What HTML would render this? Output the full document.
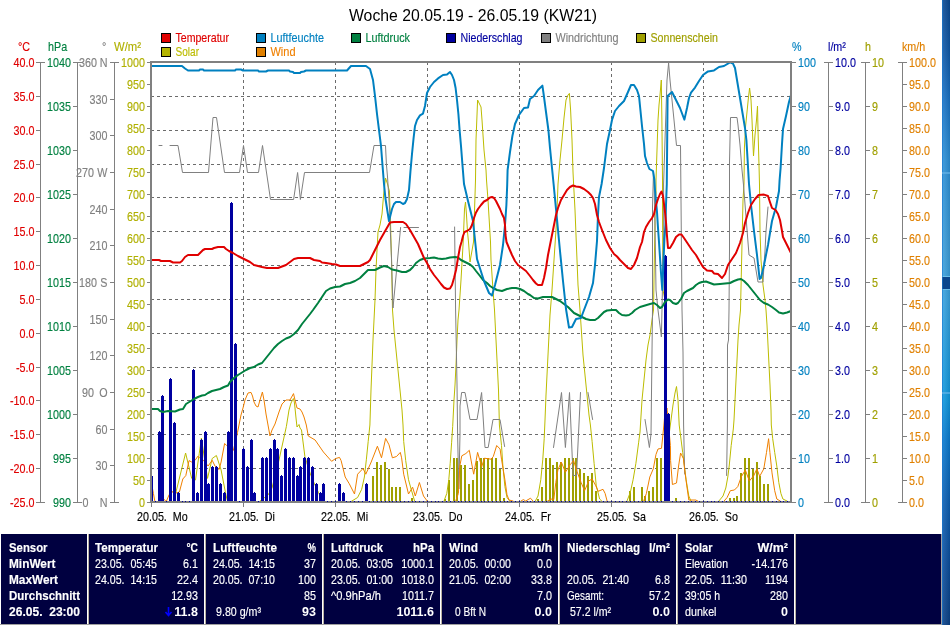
<!DOCTYPE html>
<html lang="de"><head><meta charset="utf-8"><title>Woche 20.05.19 - 26.05.19 (KW21)</title>
<style>html,body{margin:0;padding:0;background:#fff;overflow:hidden}svg{display:block}text{white-space:pre;font-family:"Liberation Sans",sans-serif}</style></head>
<body>
<svg width="950" height="625" viewBox="0 0 950 625"  xml:space="preserve">
<rect x="0" y="0" width="950" height="625" fill="#fff"/>
<text x="473" y="21" font-size="16" fill="#000" text-anchor="middle" textLength="248.00" lengthAdjust="spacingAndGlyphs">Woche 20.05.19 - 26.05.19 (KW21)</text>
<rect x="161.5" y="33.5" width="9" height="9" fill="#e00000" stroke="#000" stroke-width="1" shape-rendering="crispEdges"/>
<text transform="translate(175.5 42) scale(0.86 1)" font-size="12.5" fill="#e00000" stroke="#e00000" stroke-width="0.15" textLength="62.21" lengthAdjust="spacingAndGlyphs">Temperatur</text>
<rect x="256.5" y="33.5" width="9" height="9" fill="#0080c0" stroke="#000" stroke-width="1" shape-rendering="crispEdges"/>
<text transform="translate(270.5 42) scale(0.86 1)" font-size="12.5" fill="#0080c0" stroke="#0080c0" stroke-width="0.15" textLength="62.21" lengthAdjust="spacingAndGlyphs">Luftfeuchte</text>
<rect x="351.5" y="33.5" width="9" height="9" fill="#008040" stroke="#000" stroke-width="1" shape-rendering="crispEdges"/>
<text transform="translate(365.5 42) scale(0.86 1)" font-size="12.5" fill="#008040" stroke="#008040" stroke-width="0.15" textLength="51.74" lengthAdjust="spacingAndGlyphs">Luftdruck</text>
<rect x="446.5" y="33.5" width="9" height="9" fill="#0000a0" stroke="#000" stroke-width="1" shape-rendering="crispEdges"/>
<text transform="translate(460.5 42) scale(0.86 1)" font-size="12.5" fill="#0000a0" stroke="#0000a0" stroke-width="0.15" textLength="72.09" lengthAdjust="spacingAndGlyphs">Niederschlag</text>
<rect x="541.5" y="33.5" width="9" height="9" fill="#808080" stroke="#000" stroke-width="1" shape-rendering="crispEdges"/>
<text transform="translate(555.5 42) scale(0.86 1)" font-size="12.5" fill="#808080" stroke="#808080" stroke-width="0.15" textLength="73.26" lengthAdjust="spacingAndGlyphs">Windrichtung</text>
<rect x="636.5" y="33.5" width="9" height="9" fill="#a0a000" stroke="#000" stroke-width="1" shape-rendering="crispEdges"/>
<text transform="translate(650.5 42) scale(0.86 1)" font-size="12.5" fill="#a0a000" stroke="#a0a000" stroke-width="0.15" textLength="78.49" lengthAdjust="spacingAndGlyphs">Sonnenschein</text>
<rect x="161.5" y="47.5" width="9" height="9" fill="#b4b400" stroke="#000" stroke-width="1" shape-rendering="crispEdges"/>
<text transform="translate(175.5 56) scale(0.86 1)" font-size="12.5" fill="#bcbc00" stroke="#bcbc00" stroke-width="0.15" textLength="27.33" lengthAdjust="spacingAndGlyphs">Solar</text>
<rect x="256.5" y="47.5" width="9" height="9" fill="#e08000" stroke="#000" stroke-width="1" shape-rendering="crispEdges"/>
<text transform="translate(270.5 56) scale(0.86 1)" font-size="12.5" fill="#f08000" stroke="#f08000" stroke-width="0.15" textLength="29.07" lengthAdjust="spacingAndGlyphs">Wind</text>
<g shape-rendering="crispEdges">
<line x1="151" x2="790" y1="96.5" y2="96.5" stroke="#6c6c6c" stroke-width="1" stroke-dasharray="3,3"/>
<line x1="151" x2="790" y1="130.5" y2="130.5" stroke="#6c6c6c" stroke-width="1" stroke-dasharray="3,3"/>
<line x1="151" x2="790" y1="164.5" y2="164.5" stroke="#6c6c6c" stroke-width="1" stroke-dasharray="3,3"/>
<line x1="151" x2="790" y1="197.5" y2="197.5" stroke="#6c6c6c" stroke-width="1" stroke-dasharray="3,3"/>
<line x1="151" x2="790" y1="231.5" y2="231.5" stroke="#6c6c6c" stroke-width="1" stroke-dasharray="3,3"/>
<line x1="151" x2="790" y1="265.5" y2="265.5" stroke="#6c6c6c" stroke-width="1" stroke-dasharray="3,3"/>
<line x1="151" x2="790" y1="299.5" y2="299.5" stroke="#6c6c6c" stroke-width="1" stroke-dasharray="3,3"/>
<line x1="151" x2="790" y1="333.5" y2="333.5" stroke="#6c6c6c" stroke-width="1" stroke-dasharray="3,3"/>
<line x1="151" x2="790" y1="367.5" y2="367.5" stroke="#6c6c6c" stroke-width="1" stroke-dasharray="3,3"/>
<line x1="151" x2="790" y1="400.5" y2="400.5" stroke="#6c6c6c" stroke-width="1" stroke-dasharray="3,3"/>
<line x1="151" x2="790" y1="434.5" y2="434.5" stroke="#6c6c6c" stroke-width="1" stroke-dasharray="3,3"/>
<line x1="151" x2="790" y1="468.5" y2="468.5" stroke="#6c6c6c" stroke-width="1" stroke-dasharray="3,3"/>
<line x1="243.5" x2="243.5" y1="62" y2="501" stroke="#6c6c6c" stroke-width="1" stroke-dasharray="3,3"/>
<line x1="335.5" x2="335.5" y1="62" y2="501" stroke="#6c6c6c" stroke-width="1" stroke-dasharray="3,3"/>
<line x1="427.5" x2="427.5" y1="62" y2="501" stroke="#6c6c6c" stroke-width="1" stroke-dasharray="3,3"/>
<line x1="519.5" x2="519.5" y1="62" y2="501" stroke="#6c6c6c" stroke-width="1" stroke-dasharray="3,3"/>
<line x1="611.5" x2="611.5" y1="62" y2="501" stroke="#6c6c6c" stroke-width="1" stroke-dasharray="3,3"/>
<line x1="703.5" x2="703.5" y1="62" y2="501" stroke="#6c6c6c" stroke-width="1" stroke-dasharray="3,3"/>
</g>
<g shape-rendering="crispEdges" fill="#a0a000">
<rect x="372" y="476" width="2" height="25"/>
<rect x="376" y="462" width="2" height="39"/>
<rect x="380" y="465" width="2" height="36"/>
<rect x="384" y="462" width="2" height="39"/>
<rect x="388" y="469" width="2" height="32"/>
<rect x="391" y="487" width="2" height="14"/>
<rect x="395" y="487" width="2" height="14"/>
<rect x="399" y="487" width="2" height="14"/>
<rect x="411" y="498" width="2" height="3"/>
<rect x="444" y="499" width="2" height="2"/>
<rect x="448" y="480" width="2" height="21"/>
<rect x="453" y="458" width="2" height="43"/>
<rect x="456" y="458" width="2" height="43"/>
<rect x="460" y="465" width="2" height="36"/>
<rect x="464" y="465" width="2" height="36"/>
<rect x="468" y="484" width="2" height="17"/>
<rect x="472" y="480" width="2" height="21"/>
<rect x="476" y="461" width="2" height="40"/>
<rect x="480" y="458" width="2" height="43"/>
<rect x="483" y="458" width="2" height="43"/>
<rect x="487" y="458" width="2" height="43"/>
<rect x="491" y="458" width="2" height="43"/>
<rect x="495" y="458" width="2" height="43"/>
<rect x="499" y="469" width="2" height="32"/>
<rect x="503" y="498" width="2" height="3"/>
<rect x="537" y="499" width="2" height="2"/>
<rect x="541" y="487" width="2" height="14"/>
<rect x="545" y="458" width="2" height="43"/>
<rect x="549" y="458" width="2" height="43"/>
<rect x="552" y="465" width="2" height="36"/>
<rect x="556" y="462" width="2" height="39"/>
<rect x="560" y="462" width="2" height="39"/>
<rect x="564" y="458" width="2" height="43"/>
<rect x="568" y="458" width="2" height="43"/>
<rect x="572" y="458" width="2" height="43"/>
<rect x="575" y="458" width="2" height="43"/>
<rect x="579" y="469" width="2" height="32"/>
<rect x="583" y="473" width="2" height="28"/>
<rect x="587" y="476" width="2" height="25"/>
<rect x="591" y="473" width="2" height="28"/>
<rect x="595" y="491" width="2" height="10"/>
<rect x="629" y="491" width="2" height="10"/>
<rect x="633" y="487" width="2" height="14"/>
<rect x="641" y="487" width="2" height="14"/>
<rect x="644" y="496" width="2" height="5"/>
<rect x="648" y="491" width="2" height="10"/>
<rect x="652" y="487" width="2" height="14"/>
<rect x="656" y="458" width="2" height="43"/>
<rect x="660" y="458" width="2" height="43"/>
<rect x="675" y="498" width="2" height="3"/>
<rect x="729" y="498" width="2" height="3"/>
<rect x="733" y="498" width="2" height="3"/>
<rect x="736" y="496" width="2" height="5"/>
<rect x="740" y="473" width="2" height="28"/>
<rect x="744" y="458" width="2" height="43"/>
<rect x="748" y="458" width="2" height="43"/>
<rect x="752" y="469" width="2" height="32"/>
<rect x="756" y="462" width="2" height="39"/>
<rect x="759" y="476" width="2" height="25"/>
<rect x="763" y="484" width="2" height="17"/>
<rect x="767" y="484" width="2" height="17"/>
</g>
<polyline points="174,501 176,492 185.6,453 191.7,478.4 195.5,480 199.2,453.7 201.4,438 207.5,478.4 212.2,458.5 216.4,455.5 221.1,470 225.9,494.8 227.5,501" fill="none" stroke="#bcbc00" stroke-width="1.0" stroke-linejoin="round" stroke-linecap="round"/>
<polyline points="260,501 268,495 272,488 279,460 286.4,426.4 289,410 291,403 293.4,398.5 294.3,402 295,408 296,418 297,427 299,424.5 300,428 301.5,430 304.9,456.5 306.7,462.6 310.4,474 314.5,484 318.6,492.7 322,501" fill="none" stroke="#bcbc00" stroke-width="1.0" stroke-linejoin="round" stroke-linecap="round"/>
<polyline points="351.4,501.3 357.6,497.5 361.7,489.3 364.4,477 366.4,459.2 368.2,441.4 369.9,425 371,390 372,365 373,340 374,320 375,300 376,270 377,250 378,232 380,225 382,214 383.6,195 385.5,178 387.5,184 389.4,191 390.5,222 391.5,260 392.5,310 394,330 396,350 398,370 400,390 402,410 403,425 403.7,441.4 405.7,460.6 408.5,479.7 411.2,489.3 414.6,501" fill="none" stroke="#bcbc00" stroke-width="1.0" stroke-linejoin="round" stroke-linecap="round"/>
<polyline points="444,501 446.8,493.4 448.8,479.7 450.2,463.3 451.6,442.8 452.7,426.4 454,400 455,385 456,365 457,340 458,320 459,310 461,280 463.2,242 464.5,209 465.5,202 466.5,215 467.5,232 468.5,242 470,262 473.5,242 475.5,180 476,140 477,115 477.6,100 481,107 482,120 484,150 486,170 486.5,180 488,200 490.5,242 491,260 493,290 494.5,310 495.5,330 496.5,350 497.5,370 498.5,390 499.4,425 501.5,445.5 502.9,466 504.9,486.6 507,497.5 509.7,501" fill="none" stroke="#bcbc00" stroke-width="1.0" stroke-linejoin="round" stroke-linecap="round"/>
<polyline points="535.3,501 538,496 540.8,479.7 542.8,459.2 544.2,438.7 545,420 546,395 547,375 548,355 549,335 550,315 552,290 554,260 556,230 557,210 558,184 560,160 562,140 564,118 566,100 568,95 569.4,93.4 570.6,110 572,140 573,172 573.6,184 575,210 576,235 577,260 578,285 580,310 581,325 582,340 583,355 585,375 587,395 589,415 590.4,425 592.1,441.4 594.1,463.3 596.2,485.2 599.6,499 601.7,501" fill="none" stroke="#bcbc00" stroke-width="1.0" stroke-linejoin="round" stroke-linecap="round"/>
<polyline points="627,501 630.4,492 633.1,479.7 635.9,463.3 638.6,442.8 640,432 642,400 644,380 646,360 648,345 650,335 652,320 653.5,310 654,280 654.5,250 655,224 655,203 656,193 656,180 657,150 658,120 659,105 660,95 661.3,80 661.9,120 662.5,180 662.5,207 663,290 665,300 665.5,470 667.5,470 669,435 671,420 673,405 675,393 676.5,386.5 678,400 679.2,425 682.7,452.4 686.1,479.7 688.8,496 690.9,501" fill="none" stroke="#bcbc00" stroke-width="1.0" stroke-linejoin="round" stroke-linecap="round"/>
<polyline points="718.9,501 723,496 725.8,488 727.8,477 729.2,466 731.2,445.5 733.3,429 734,420 735,400 736,380 737,360 738,340 739,325 740.5,310 743,200 744,184 744.4,148 745.6,126 747,112 748.4,98 749.6,88 751,100 752,120 753,145 753.5,156 755,135 756.5,120 757.5,106 758,130 759,165 759.5,185 760,230 761,260 763,285 765,300 766,310 767,325 768,345 769,365 770,385 771,410 771.3,425 772.7,438.7 774.7,452.4 776.8,466 778.8,482.5 780.9,493.4 782.9,499 787,501" fill="none" stroke="#bcbc00" stroke-width="1.0" stroke-linejoin="round" stroke-linecap="round"/>
<polyline points="159,145.5 162,145.5" fill="none" stroke="#808080" stroke-width="1" stroke-linejoin="round" stroke-linecap="round"/>
<polyline points="170,145.5 178,145.5 182.5,172.5 208.5,172.5 213,117.5 216.5,117.5 224.5,172.5 239.5,172.5 243.5,145.5 247.5,172.5 258.5,172.5 262.5,145.5 270.5,199.5 293.6,199.5 297.6,172.5 300.4,199.5 304.5,172.5 369.5,172.5 374,145.5 385.5,145.5 386.4,164 387.6,178 389.6,210 390.5,235 391.6,260 392.5,293 393,308 400.6,227.5" fill="none" stroke="#808080" stroke-width="1" stroke-linejoin="round" stroke-linecap="round"/>
<polyline points="404,227.5 418.5,227.5" fill="none" stroke="#808080" stroke-width="1" stroke-linejoin="round" stroke-linecap="round"/>
<polyline points="454.6,227 455.6,310 457,384 457.6,434 458.8,489 460,434 460,406 461.6,392.5 465,392.5 470,419.5 477,419.5 481.6,392.5 485,447.5 488.2,447.5 493,419.5 500,419.5 504.6,446.5" fill="none" stroke="#808080" stroke-width="1" stroke-linejoin="round" stroke-linecap="round"/>
<polyline points="553.5,447.5 561.5,392.5 565.4,447.5 569.5,392.5 573,475.5 576.5,475.5 580.5,392.5" fill="none" stroke="#808080" stroke-width="1" stroke-linejoin="round" stroke-linecap="round"/>
<polyline points="588,392.5 592.6,419.5" fill="none" stroke="#808080" stroke-width="1" stroke-linejoin="round" stroke-linecap="round"/>
<polyline points="645,419.5 649.4,447.5 651,434 652.5,310 652.5,207 653.5,172 654,180 655,224 656,290 658,310 661.4,337 663.7,230 663.6,184 665,140 666,110 667,80 668.6,63 670,80 672,100 674,120 676.5,145.5 680.5,145.5 681,200 682,310 683,352 683.6,425 684.7,474" fill="none" stroke="#808080" stroke-width="1" stroke-linejoin="round" stroke-linecap="round"/>
<polyline points="726.6,475.5 727.4,425 727.5,345 728.5,340 729,310 729.5,250 729.5,162 730.5,117.5 737,117.5 738,125 740,145 742,170 743.5,185 749,255 754,258 758,282 763,282 764,265 765,251 766,231 768,207" fill="none" stroke="#808080" stroke-width="1" stroke-linejoin="round" stroke-linecap="round"/>
<polyline points="152,486 153.4,493.4 154.8,501" fill="none" stroke="#f08000" stroke-width="1.0" stroke-linejoin="round" stroke-linecap="round"/>
<polyline points="163.7,499 165.7,501 166.5,501 169,495 171.9,491 174,494 176.7,492.7 179.4,492 182.8,479 185.8,475.6 189,460.6 191.7,462 195.1,460.3 197.9,456.2 199.5,457.8 203.4,460.3 208.1,466 212.2,460.3 215,466 219.1,469.5 221.1,462 224.6,443.5 226.6,445.5 230,448 233.4,450.3 237.5,432.5 239,425 241,415 243,408 245,400 248,393 251,392.4 252.5,396 254,402 256,406 258,407 260,400 262.4,392 264,400 266,414 268,425 270,436 272,430 275,424 279,412 282,404 286,400 290,400 293.5,393.6 295,400 297,408 300,409 302,412 304,417 306.3,425 308.3,436 315.1,440 323.4,452 331.6,461.3 335.7,458.5 339.5,457.4 341.1,460.6 345.2,477 349.3,483.8 354.5,494 357.6,474.2 363,468.5 365.8,474.2 371.2,462 377.4,446.2 381.5,457.8 385.6,438.4 389,444.8 392.4,457.8 396.5,456.5 400.3,452.4 401.6,457.8 403.7,474.2 408.5,494 412.6,487.2 415.3,496 419.4,482.5 423.5,496 427.2,501" fill="none" stroke="#f08000" stroke-width="1.0" stroke-linejoin="round" stroke-linecap="round"/>
<polyline points="455.7,501 458.4,493.4 459.8,466 461.8,455.8 465.9,453.5 469.3,450.3 471.4,462 473.7,474.2 477.6,452.4 481.7,466.7 484.4,458.2 491.2,459.2 493.3,456.5 496.7,445.5 500.1,449 501.5,459.2 504.9,479.7 507,494.8 509,500 513,501" fill="none" stroke="#f08000" stroke-width="1.0" stroke-linejoin="round" stroke-linecap="round"/>
<polyline points="521,501 523.4,499.6 525.7,501 530.5,498.2 533,501" fill="none" stroke="#f08000" stroke-width="1.0" stroke-linejoin="round" stroke-linecap="round"/>
<polyline points="547.6,501 551,499 553.8,499.6 555.8,482.5 557.9,470 561.3,462 565.4,472.2 570.2,464.7 573.6,460.6 577,471.5 581.1,482.5 584.6,490.7 588.7,481 592.1,479 595.5,485.2 598.2,491.3 603,489.3 605.1,493.4 607.1,501" fill="none" stroke="#f08000" stroke-width="1.0" stroke-linejoin="round" stroke-linecap="round"/>
<polyline points="643.7,501 646.4,493.4 649.8,477 653.3,468.8 656,454.4 658,449 661.5,448.3 662.8,436 663.9,425 665,412 667,408 670.4,445.5 670.6,460.6 672.4,484.5 676.5,483 678.6,466 680.6,453 683.4,458.5 684.7,470 686.8,485.9 688.8,500 695.7,500 697.7,501" fill="none" stroke="#f08000" stroke-width="1.0" stroke-linejoin="round" stroke-linecap="round"/>
<polyline points="724.1,501 727.1,497.5 730.3,490.7 734.4,490 737.8,486.6 741.2,477 745.3,470 749.4,481 753.8,475.6 756.9,468.8 759.7,476.3 763.8,468.8 766.5,452.4 768.6,438.7 769.9,452.4 772,472.9 774.7,490.7 776.8,499 780.2,501" fill="none" stroke="#f08000" stroke-width="1.0" stroke-linejoin="round" stroke-linecap="round"/>
<g fill="#0000a0" shape-rendering="crispEdges">
<rect x="152" y="476" width="1" height="26"/>
<rect x="151" y="475" width="1" height="1"/>
<rect x="158" y="432" width="3" height="70"/>
<rect x="159" y="431" width="1" height="1"/>
<rect x="161" y="396" width="3" height="106"/>
<rect x="162" y="395" width="1" height="1"/>
<rect x="169" y="379" width="3" height="123"/>
<rect x="170" y="378" width="1" height="1"/>
<rect x="173" y="423" width="3" height="79"/>
<rect x="174" y="422" width="1" height="1"/>
<rect x="177" y="493" width="3" height="9"/>
<rect x="178" y="492" width="1" height="1"/>
<rect x="192" y="370" width="3" height="132"/>
<rect x="193" y="369" width="1" height="1"/>
<rect x="196" y="493" width="3" height="9"/>
<rect x="197" y="492" width="1" height="1"/>
<rect x="200" y="440" width="3" height="62"/>
<rect x="201" y="439" width="1" height="1"/>
<rect x="204" y="432" width="3" height="70"/>
<rect x="205" y="431" width="1" height="1"/>
<rect x="207" y="484" width="3" height="18"/>
<rect x="208" y="483" width="1" height="1"/>
<rect x="211" y="467" width="3" height="35"/>
<rect x="212" y="466" width="1" height="1"/>
<rect x="215" y="467" width="3" height="35"/>
<rect x="216" y="466" width="1" height="1"/>
<rect x="219" y="484" width="3" height="18"/>
<rect x="220" y="483" width="1" height="1"/>
<rect x="223" y="493" width="3" height="9"/>
<rect x="224" y="492" width="1" height="1"/>
<rect x="227" y="432" width="3" height="70"/>
<rect x="228" y="431" width="1" height="1"/>
<rect x="230" y="203" width="3" height="299"/>
<rect x="231" y="202" width="1" height="1"/>
<rect x="234" y="344" width="3" height="158"/>
<rect x="235" y="343" width="1" height="1"/>
<rect x="242" y="449" width="3" height="53"/>
<rect x="243" y="448" width="1" height="1"/>
<rect x="246" y="467" width="3" height="35"/>
<rect x="247" y="466" width="1" height="1"/>
<rect x="250" y="440" width="3" height="62"/>
<rect x="251" y="439" width="1" height="1"/>
<rect x="253" y="493" width="3" height="9"/>
<rect x="254" y="492" width="1" height="1"/>
<rect x="261" y="458" width="3" height="44"/>
<rect x="262" y="457" width="1" height="1"/>
<rect x="265" y="458" width="3" height="44"/>
<rect x="266" y="457" width="1" height="1"/>
<rect x="269" y="449" width="3" height="53"/>
<rect x="270" y="448" width="1" height="1"/>
<rect x="273" y="440" width="3" height="62"/>
<rect x="274" y="439" width="1" height="1"/>
<rect x="276" y="449" width="3" height="53"/>
<rect x="277" y="448" width="1" height="1"/>
<rect x="280" y="476" width="3" height="26"/>
<rect x="281" y="475" width="1" height="1"/>
<rect x="284" y="449" width="3" height="53"/>
<rect x="285" y="448" width="1" height="1"/>
<rect x="288" y="458" width="3" height="44"/>
<rect x="289" y="457" width="1" height="1"/>
<rect x="292" y="458" width="3" height="44"/>
<rect x="293" y="457" width="1" height="1"/>
<rect x="296" y="476" width="3" height="26"/>
<rect x="297" y="475" width="1" height="1"/>
<rect x="299" y="467" width="3" height="35"/>
<rect x="300" y="466" width="1" height="1"/>
<rect x="303" y="458" width="3" height="44"/>
<rect x="304" y="457" width="1" height="1"/>
<rect x="307" y="458" width="3" height="44"/>
<rect x="308" y="457" width="1" height="1"/>
<rect x="311" y="467" width="3" height="35"/>
<rect x="312" y="466" width="1" height="1"/>
<rect x="315" y="484" width="3" height="18"/>
<rect x="316" y="483" width="1" height="1"/>
<rect x="319" y="493" width="3" height="9"/>
<rect x="320" y="492" width="1" height="1"/>
<rect x="322" y="484" width="3" height="18"/>
<rect x="323" y="483" width="1" height="1"/>
<rect x="338" y="484" width="3" height="18"/>
<rect x="339" y="483" width="1" height="1"/>
<rect x="342" y="493" width="3" height="9"/>
<rect x="343" y="492" width="1" height="1"/>
<rect x="365" y="484" width="3" height="18"/>
<rect x="366" y="483" width="1" height="1"/>
<rect x="664" y="256" width="3" height="246"/>
<rect x="665" y="255" width="1" height="1"/>
<rect x="667" y="414" width="3" height="88"/>
<rect x="668" y="413" width="1" height="1"/>
</g>
<polyline points="152,409 158,409 160,411 163,412 168,411 175,411.5 180,409.5 183,409 186,404 190,401.5 194,399 198,397 202,395.5 205,395 208,393 212,391 216,390 220,389 224,387 228,385.5 230,382 234,378 238,375 242,372.5 246,370 250,368 254,367 258,364.5 262,363 266,358 270,353 274,348 278,344 282,341 286,338.5 290,337 294,334 298,330 302,324 306,319 310,314 313,310 318,303 322,297 326,291 330,288.5 335,287 340,286.5 345,284 350,283 355,281 360,278 364,274 368,270 375,270 380,267.5 384,266 388,267 392,269.5 397,270.5 402,272 406,272 410,270 413,267 416,263 420,260 424,258.5 430,258 434,257.5 438,258.5 442,259 446,258.5 450,257.5 455,257 458,257.5 461,260 465,262 470,264.5 473,267 476,271 480,276 483,280 487,283 490,286 493,288 497,290 502,291 507,289 512,288 516,288 520,289 524,291 528,294 530,295 534,298 538,298.5 543,297 548,297 552,297 556,299 560,301 564,304 568,307 571,310 574,313 578,315 582,317 586,319 590,320 595,320 598,318 601,315 604,312 607,310.5 612,310 616,310 619,313 622,315 626,315.5 629,315 632,313 635,310 640,307 645,305.5 650,304 654,303 657,305 660,308 662,307 665,302 668,299.5 670,300 673,303 676,304 678,303 681,299 684,293 687,291 690,289.5 693,288 696,285 699,283 702,282 706,281.5 710,283 714,284.5 720,284 725,283.5 730,283 734,281 738,279.5 741,279 744,281 748,285 752,290 756,295 760,300 764,303 768,304.5 772,307 776,310 779,312.5 783,313.5 787,312.5 791,311" fill="none" stroke="#008040" stroke-width="2.0" stroke-linejoin="round" stroke-linecap="round"/>
<polyline points="152,66 182,66 185,68.5 188,70.5 199,70.5 200,69.5 203,69.5 204,70.5 235,70.5 236,69.5 241,69.5 243,70.5 258,70.5 259,71.5 266,71.5 268,70.5 289,70.5 290,71.5 293,72 294,73 300,73 301,72 304,71.5 306,70.5 347,70.5 351,66 366,66 370,69 373,80 375,96 377,114 379,130 381,146 382.4,164 384,184 385.4,198 386.6,206 389,221 392,209 394,204 396,202 400,202 403,204 405,203 407,199 409,190 410.4,172 412,154 413.6,138 415,126 417,120 420,115.4 423,113.6 425,106 427,93 430,87 434,82 438,78.4 443,75 447,74.6 450,72 452,75 454,80 455.6,88 457,100 458.4,114 459.6,130 461,146 462.4,164 464,184 468,201 473,221 477,259 484,281 489,293 492,295.6 495,285 500,265 503,245 505,225 506.4,205 507.2,185 507.6,170 510,152 512.4,136 515,124 519,115 524,108 528,107.4 530,99 534,96 538,90 542.4,85.6 543.6,94 546,112 548.4,130 550,148 552,168 553.6,184 556,209 560,251 563,281 566,309 569,327.6 572,327 576,319 581,318 584,310 589,297 593,283 595,265 597,241 598,215 599,197 601.6,184 604,168 607,144 610,130 612,120 615,111 619,106 624,101 628,92 631,85 634,85 637,90 639,96 640,106 642,126 644,144 645,156 647,163 649.4,169 653,171 654.4,180 655,190 657,212 658,228 659,242 661,273 662.3,290 664.4,239 665.5,225 666,205 666.8,184 667.6,96 672,92 676,100 680,108 683,116 684.4,119.6 687,108 689,98 691,92.6 695,87.6 699,81 703,75 708,71.4 714,70.4 719,67 724,66 730,62.4 733,63.6 735,68 737,80 739,92 741,104 743,116 745,128 746.4,140 747.6,160 749,184 751,205 754,231 757,255 759.6,279 761,278 764,265 768,245 772,221 776,207 779,191 779.6,180 780.6,168 782,144 783,129 786,116 789,102 791,95" fill="none" stroke="#0080c0" stroke-width="2.0" stroke-linejoin="round" stroke-linecap="round"/>
<polyline points="152,260 159,260 161,261 170,261 173,262.5 180,262.5 182,261 185,257 188,255 198,255 200,253 203,250 205,249 212,249 214,248 218,247 224,247 226,249 229,251 233,253 238,256 242,258 246,260 250,262 254,265 258,266 262,267 267,268 278,268 282,266.5 286,265 290,262 294,259 298,258 310,258 314,260 320,261 322,262.5 326,263 332,264 336,264.5 340,266 360,266 364,264 368,262 370,260 373,254 376,248 380,240 384,233 388,226 390,222.5 394,222 403,222 406,224 410,230 414,237 418,244 421,251 424,258 427,263 430,269 434,275 438,280 441,284 444,287.5 447,289 450,288.5 452,285 454,278 456,270 458,258 460,247 461.5,242 463,236 464.5,232 467,231 470,229 472,225 474,218 476,212.5 478,209 481,205 484,201.5 487,200 490,197.5 492,197 494,198 496,201 498,205 500,209 502,214 504,218 505,225 505.5,235 506.5,242 509,248 512,255 515,261 518,265 522,268 526,271 530,276 533,280 536,283.5 538,285 542,285 544,278 546,268 548,255 550,245 552,235 554,225 556,215 558,208 561,200 564,195 567,190 570,187 573,185.5 576,186.5 580,187 584,189 588,192 591,195 593,198 595,204 597,215 599,222 602,230 606,240 610,248 614,254 617,256.5 620,260 624,264 628,268 631,269 634,265 637,258 640,247 642,242 644,232 646,227 649,222 652,218 654,214 656,205 658,199 660,194 661.5,191.5 663,196 664,204 665,212 666,222 667,236 668,248 670,248 673,243 676,237 679,234.5 681.5,234.5 684,238 688,244 692,250 696,255 700,262 703,267 707,270.6 712,271 714,273.4 718,274 722,278 725,274 728,265 732,259 736,253 740,243 743,233 745,223 748,213 751,205 755,199 758.6,195 764,194.6 768,196 769.6,201 772,208 775.6,210 778,214 780,220 782,231 783,237 786,243 789,249 791,253" fill="none" stroke="#e00000" stroke-width="2.0" stroke-linejoin="round" stroke-linecap="round"/>
<rect x="151" y="62" width="640" height="440" fill="none" stroke="#808080" stroke-width="2" shape-rendering="crispEdges"/>
<rect x="155" y="501" width="1" height="1" fill="#0000a0" shape-rendering="crispEdges"/>
<rect x="166" y="501" width="1" height="1" fill="#0000a0" shape-rendering="crispEdges"/>
<rect x="182" y="501" width="1" height="1" fill="#0000a0" shape-rendering="crispEdges"/>
<rect x="185" y="501" width="1" height="1" fill="#0000a0" shape-rendering="crispEdges"/>
<rect x="189" y="501" width="1" height="1" fill="#0000a0" shape-rendering="crispEdges"/>
<rect x="239" y="501" width="1" height="1" fill="#0000a0" shape-rendering="crispEdges"/>
<rect x="258" y="501" width="1" height="1" fill="#0000a0" shape-rendering="crispEdges"/>
<rect x="327" y="501" width="1" height="1" fill="#0000a0" shape-rendering="crispEdges"/>
<rect x="331" y="501" width="1" height="1" fill="#0000a0" shape-rendering="crispEdges"/>
<rect x="335" y="501" width="1" height="1" fill="#0000a0" shape-rendering="crispEdges"/>
<rect x="346" y="501" width="1" height="1" fill="#0000a0" shape-rendering="crispEdges"/>
<rect x="350" y="501" width="1" height="1" fill="#0000a0" shape-rendering="crispEdges"/>
<rect x="354" y="501" width="1" height="1" fill="#0000a0" shape-rendering="crispEdges"/>
<rect x="358" y="501" width="1" height="1" fill="#0000a0" shape-rendering="crispEdges"/>
<rect x="362" y="501" width="1" height="1" fill="#0000a0" shape-rendering="crispEdges"/>
<rect x="369" y="501" width="1" height="1" fill="#0000a0" shape-rendering="crispEdges"/>
<rect x="373" y="501" width="1" height="1" fill="#0000a0" shape-rendering="crispEdges"/>
<rect x="377" y="501" width="1" height="1" fill="#0000a0" shape-rendering="crispEdges"/>
<rect x="381" y="501" width="1" height="1" fill="#0000a0" shape-rendering="crispEdges"/>
<rect x="385" y="501" width="1" height="1" fill="#0000a0" shape-rendering="crispEdges"/>
<rect x="389" y="501" width="1" height="1" fill="#0000a0" shape-rendering="crispEdges"/>
<rect x="392" y="501" width="1" height="1" fill="#0000a0" shape-rendering="crispEdges"/>
<rect x="396" y="501" width="1" height="1" fill="#0000a0" shape-rendering="crispEdges"/>
<rect x="400" y="501" width="1" height="1" fill="#0000a0" shape-rendering="crispEdges"/>
<rect x="404" y="501" width="1" height="1" fill="#0000a0" shape-rendering="crispEdges"/>
<rect x="408" y="501" width="1" height="1" fill="#0000a0" shape-rendering="crispEdges"/>
<rect x="412" y="501" width="1" height="1" fill="#0000a0" shape-rendering="crispEdges"/>
<rect x="415" y="501" width="1" height="1" fill="#0000a0" shape-rendering="crispEdges"/>
<rect x="419" y="501" width="1" height="1" fill="#0000a0" shape-rendering="crispEdges"/>
<rect x="423" y="501" width="1" height="1" fill="#0000a0" shape-rendering="crispEdges"/>
<rect x="427" y="501" width="1" height="1" fill="#0000a0" shape-rendering="crispEdges"/>
<rect x="431" y="501" width="1" height="1" fill="#0000a0" shape-rendering="crispEdges"/>
<rect x="435" y="501" width="1" height="1" fill="#0000a0" shape-rendering="crispEdges"/>
<rect x="438" y="501" width="1" height="1" fill="#0000a0" shape-rendering="crispEdges"/>
<rect x="442" y="501" width="1" height="1" fill="#0000a0" shape-rendering="crispEdges"/>
<rect x="446" y="501" width="1" height="1" fill="#0000a0" shape-rendering="crispEdges"/>
<rect x="450" y="501" width="1" height="1" fill="#0000a0" shape-rendering="crispEdges"/>
<rect x="454" y="501" width="1" height="1" fill="#0000a0" shape-rendering="crispEdges"/>
<rect x="458" y="501" width="1" height="1" fill="#0000a0" shape-rendering="crispEdges"/>
<rect x="461" y="501" width="1" height="1" fill="#0000a0" shape-rendering="crispEdges"/>
<rect x="465" y="501" width="1" height="1" fill="#0000a0" shape-rendering="crispEdges"/>
<rect x="469" y="501" width="1" height="1" fill="#0000a0" shape-rendering="crispEdges"/>
<rect x="473" y="501" width="1" height="1" fill="#0000a0" shape-rendering="crispEdges"/>
<rect x="477" y="501" width="1" height="1" fill="#0000a0" shape-rendering="crispEdges"/>
<rect x="481" y="501" width="1" height="1" fill="#0000a0" shape-rendering="crispEdges"/>
<rect x="484" y="501" width="1" height="1" fill="#0000a0" shape-rendering="crispEdges"/>
<rect x="488" y="501" width="1" height="1" fill="#0000a0" shape-rendering="crispEdges"/>
<rect x="492" y="501" width="1" height="1" fill="#0000a0" shape-rendering="crispEdges"/>
<rect x="496" y="501" width="1" height="1" fill="#0000a0" shape-rendering="crispEdges"/>
<rect x="500" y="501" width="1" height="1" fill="#0000a0" shape-rendering="crispEdges"/>
<rect x="504" y="501" width="1" height="1" fill="#0000a0" shape-rendering="crispEdges"/>
<rect x="507" y="501" width="1" height="1" fill="#0000a0" shape-rendering="crispEdges"/>
<rect x="511" y="501" width="1" height="1" fill="#0000a0" shape-rendering="crispEdges"/>
<rect x="515" y="501" width="1" height="1" fill="#0000a0" shape-rendering="crispEdges"/>
<rect x="519" y="501" width="1" height="1" fill="#0000a0" shape-rendering="crispEdges"/>
<rect x="523" y="501" width="1" height="1" fill="#0000a0" shape-rendering="crispEdges"/>
<rect x="527" y="501" width="1" height="1" fill="#0000a0" shape-rendering="crispEdges"/>
<rect x="530" y="501" width="1" height="1" fill="#0000a0" shape-rendering="crispEdges"/>
<rect x="534" y="501" width="1" height="1" fill="#0000a0" shape-rendering="crispEdges"/>
<rect x="538" y="501" width="1" height="1" fill="#0000a0" shape-rendering="crispEdges"/>
<rect x="542" y="501" width="1" height="1" fill="#0000a0" shape-rendering="crispEdges"/>
<rect x="546" y="501" width="1" height="1" fill="#0000a0" shape-rendering="crispEdges"/>
<rect x="550" y="501" width="1" height="1" fill="#0000a0" shape-rendering="crispEdges"/>
<rect x="553" y="501" width="1" height="1" fill="#0000a0" shape-rendering="crispEdges"/>
<rect x="557" y="501" width="1" height="1" fill="#0000a0" shape-rendering="crispEdges"/>
<rect x="561" y="501" width="1" height="1" fill="#0000a0" shape-rendering="crispEdges"/>
<rect x="565" y="501" width="1" height="1" fill="#0000a0" shape-rendering="crispEdges"/>
<rect x="569" y="501" width="1" height="1" fill="#0000a0" shape-rendering="crispEdges"/>
<rect x="573" y="501" width="1" height="1" fill="#0000a0" shape-rendering="crispEdges"/>
<rect x="576" y="501" width="1" height="1" fill="#0000a0" shape-rendering="crispEdges"/>
<rect x="580" y="501" width="1" height="1" fill="#0000a0" shape-rendering="crispEdges"/>
<rect x="584" y="501" width="1" height="1" fill="#0000a0" shape-rendering="crispEdges"/>
<rect x="588" y="501" width="1" height="1" fill="#0000a0" shape-rendering="crispEdges"/>
<rect x="592" y="501" width="1" height="1" fill="#0000a0" shape-rendering="crispEdges"/>
<rect x="596" y="501" width="1" height="1" fill="#0000a0" shape-rendering="crispEdges"/>
<rect x="599" y="501" width="1" height="1" fill="#0000a0" shape-rendering="crispEdges"/>
<rect x="603" y="501" width="1" height="1" fill="#0000a0" shape-rendering="crispEdges"/>
<rect x="607" y="501" width="1" height="1" fill="#0000a0" shape-rendering="crispEdges"/>
<rect x="611" y="501" width="1" height="1" fill="#0000a0" shape-rendering="crispEdges"/>
<rect x="615" y="501" width="1" height="1" fill="#0000a0" shape-rendering="crispEdges"/>
<rect x="619" y="501" width="1" height="1" fill="#0000a0" shape-rendering="crispEdges"/>
<rect x="622" y="501" width="1" height="1" fill="#0000a0" shape-rendering="crispEdges"/>
<rect x="626" y="501" width="1" height="1" fill="#0000a0" shape-rendering="crispEdges"/>
<rect x="630" y="501" width="1" height="1" fill="#0000a0" shape-rendering="crispEdges"/>
<rect x="634" y="501" width="1" height="1" fill="#0000a0" shape-rendering="crispEdges"/>
<rect x="638" y="501" width="1" height="1" fill="#0000a0" shape-rendering="crispEdges"/>
<rect x="642" y="501" width="1" height="1" fill="#0000a0" shape-rendering="crispEdges"/>
<rect x="645" y="501" width="1" height="1" fill="#0000a0" shape-rendering="crispEdges"/>
<rect x="649" y="501" width="1" height="1" fill="#0000a0" shape-rendering="crispEdges"/>
<rect x="653" y="501" width="1" height="1" fill="#0000a0" shape-rendering="crispEdges"/>
<rect x="657" y="501" width="1" height="1" fill="#0000a0" shape-rendering="crispEdges"/>
<rect x="661" y="501" width="1" height="1" fill="#0000a0" shape-rendering="crispEdges"/>
<rect x="672" y="501" width="1" height="1" fill="#0000a0" shape-rendering="crispEdges"/>
<rect x="676" y="501" width="1" height="1" fill="#0000a0" shape-rendering="crispEdges"/>
<rect x="680" y="501" width="1" height="1" fill="#0000a0" shape-rendering="crispEdges"/>
<rect x="684" y="501" width="1" height="1" fill="#0000a0" shape-rendering="crispEdges"/>
<rect x="688" y="501" width="1" height="1" fill="#0000a0" shape-rendering="crispEdges"/>
<rect x="691" y="501" width="1" height="1" fill="#0000a0" shape-rendering="crispEdges"/>
<rect x="695" y="501" width="1" height="1" fill="#0000a0" shape-rendering="crispEdges"/>
<rect x="699" y="501" width="1" height="1" fill="#0000a0" shape-rendering="crispEdges"/>
<rect x="703" y="501" width="1" height="1" fill="#0000a0" shape-rendering="crispEdges"/>
<rect x="707" y="501" width="1" height="1" fill="#0000a0" shape-rendering="crispEdges"/>
<rect x="711" y="501" width="1" height="1" fill="#0000a0" shape-rendering="crispEdges"/>
<rect x="714" y="501" width="1" height="1" fill="#0000a0" shape-rendering="crispEdges"/>
<rect x="718" y="501" width="1" height="1" fill="#0000a0" shape-rendering="crispEdges"/>
<rect x="722" y="501" width="1" height="1" fill="#0000a0" shape-rendering="crispEdges"/>
<rect x="726" y="501" width="1" height="1" fill="#0000a0" shape-rendering="crispEdges"/>
<rect x="730" y="501" width="1" height="1" fill="#0000a0" shape-rendering="crispEdges"/>
<rect x="734" y="501" width="1" height="1" fill="#0000a0" shape-rendering="crispEdges"/>
<rect x="737" y="501" width="1" height="1" fill="#0000a0" shape-rendering="crispEdges"/>
<rect x="741" y="501" width="1" height="1" fill="#0000a0" shape-rendering="crispEdges"/>
<rect x="745" y="501" width="1" height="1" fill="#0000a0" shape-rendering="crispEdges"/>
<rect x="749" y="501" width="1" height="1" fill="#0000a0" shape-rendering="crispEdges"/>
<rect x="753" y="501" width="1" height="1" fill="#0000a0" shape-rendering="crispEdges"/>
<rect x="757" y="501" width="1" height="1" fill="#0000a0" shape-rendering="crispEdges"/>
<rect x="760" y="501" width="1" height="1" fill="#0000a0" shape-rendering="crispEdges"/>
<rect x="764" y="501" width="1" height="1" fill="#0000a0" shape-rendering="crispEdges"/>
<rect x="768" y="501" width="1" height="1" fill="#0000a0" shape-rendering="crispEdges"/>
<rect x="772" y="501" width="1" height="1" fill="#0000a0" shape-rendering="crispEdges"/>
<rect x="776" y="501" width="1" height="1" fill="#0000a0" shape-rendering="crispEdges"/>
<rect x="780" y="501" width="1" height="1" fill="#0000a0" shape-rendering="crispEdges"/>
<rect x="783" y="501" width="1" height="1" fill="#0000a0" shape-rendering="crispEdges"/>
<rect x="787" y="501" width="1" height="1" fill="#0000a0" shape-rendering="crispEdges"/>
<g shape-rendering="crispEdges" stroke="#808080" stroke-width="1">
<line x1="40.5" x2="40.5" y1="62" y2="503"/>
<line x1="36" x2="45" y1="62.5" y2="62.5"/>
<line x1="36" x2="45" y1="502.5" y2="502.5"/>
<line x1="36" x2="40" y1="62.5" y2="62.5"/>
<line x1="36" x2="40" y1="96.5" y2="96.5"/>
<line x1="36" x2="40" y1="130.5" y2="130.5"/>
<line x1="36" x2="40" y1="164.5" y2="164.5"/>
<line x1="36" x2="40" y1="197.5" y2="197.5"/>
<line x1="36" x2="40" y1="231.5" y2="231.5"/>
<line x1="36" x2="40" y1="265.5" y2="265.5"/>
<line x1="36" x2="40" y1="299.5" y2="299.5"/>
<line x1="36" x2="40" y1="333.5" y2="333.5"/>
<line x1="36" x2="40" y1="367.5" y2="367.5"/>
<line x1="36" x2="40" y1="400.5" y2="400.5"/>
<line x1="36" x2="40" y1="434.5" y2="434.5"/>
<line x1="36" x2="40" y1="468.5" y2="468.5"/>
<line x1="36" x2="40" y1="502.5" y2="502.5"/>
<line x1="77.5" x2="77.5" y1="62" y2="503"/>
<line x1="73" x2="82" y1="62.5" y2="62.5"/>
<line x1="73" x2="82" y1="502.5" y2="502.5"/>
<line x1="73" x2="77" y1="62.5" y2="62.5"/>
<line x1="73" x2="77" y1="106.5" y2="106.5"/>
<line x1="73" x2="77" y1="150.5" y2="150.5"/>
<line x1="73" x2="77" y1="194.5" y2="194.5"/>
<line x1="73" x2="77" y1="238.5" y2="238.5"/>
<line x1="73" x2="77" y1="282.5" y2="282.5"/>
<line x1="73" x2="77" y1="326.5" y2="326.5"/>
<line x1="73" x2="77" y1="370.5" y2="370.5"/>
<line x1="73" x2="77" y1="414.5" y2="414.5"/>
<line x1="73" x2="77" y1="458.5" y2="458.5"/>
<line x1="73" x2="77" y1="502.5" y2="502.5"/>
<line x1="114.5" x2="114.5" y1="62" y2="503"/>
<line x1="110" x2="119" y1="62.5" y2="62.5"/>
<line x1="110" x2="119" y1="502.5" y2="502.5"/>
<line x1="110" x2="114" y1="62.5" y2="62.5"/>
<line x1="110" x2="114" y1="99.5" y2="99.5"/>
<line x1="110" x2="114" y1="135.5" y2="135.5"/>
<line x1="110" x2="114" y1="172.5" y2="172.5"/>
<line x1="110" x2="114" y1="209.5" y2="209.5"/>
<line x1="110" x2="114" y1="245.5" y2="245.5"/>
<line x1="110" x2="114" y1="282.5" y2="282.5"/>
<line x1="110" x2="114" y1="319.5" y2="319.5"/>
<line x1="110" x2="114" y1="355.5" y2="355.5"/>
<line x1="110" x2="114" y1="392.5" y2="392.5"/>
<line x1="110" x2="114" y1="429.5" y2="429.5"/>
<line x1="110" x2="114" y1="465.5" y2="465.5"/>
<line x1="110" x2="114" y1="502.5" y2="502.5"/>
<line x1="147" x2="150" y1="62.5" y2="62.5"/>
<line x1="147" x2="150" y1="84.5" y2="84.5"/>
<line x1="147" x2="150" y1="106.5" y2="106.5"/>
<line x1="147" x2="150" y1="128.5" y2="128.5"/>
<line x1="147" x2="150" y1="150.5" y2="150.5"/>
<line x1="147" x2="150" y1="172.5" y2="172.5"/>
<line x1="147" x2="150" y1="194.5" y2="194.5"/>
<line x1="147" x2="150" y1="216.5" y2="216.5"/>
<line x1="147" x2="150" y1="238.5" y2="238.5"/>
<line x1="147" x2="150" y1="260.5" y2="260.5"/>
<line x1="147" x2="150" y1="282.5" y2="282.5"/>
<line x1="147" x2="150" y1="304.5" y2="304.5"/>
<line x1="147" x2="150" y1="326.5" y2="326.5"/>
<line x1="147" x2="150" y1="348.5" y2="348.5"/>
<line x1="147" x2="150" y1="370.5" y2="370.5"/>
<line x1="147" x2="150" y1="392.5" y2="392.5"/>
<line x1="147" x2="150" y1="414.5" y2="414.5"/>
<line x1="147" x2="150" y1="436.5" y2="436.5"/>
<line x1="147" x2="150" y1="458.5" y2="458.5"/>
<line x1="147" x2="150" y1="480.5" y2="480.5"/>
<line x1="147" x2="150" y1="502.5" y2="502.5"/>
<line x1="792" x2="796" y1="62.5" y2="62.5"/>
<line x1="792" x2="796" y1="106.5" y2="106.5"/>
<line x1="792" x2="796" y1="150.5" y2="150.5"/>
<line x1="792" x2="796" y1="194.5" y2="194.5"/>
<line x1="792" x2="796" y1="238.5" y2="238.5"/>
<line x1="792" x2="796" y1="282.5" y2="282.5"/>
<line x1="792" x2="796" y1="326.5" y2="326.5"/>
<line x1="792" x2="796" y1="370.5" y2="370.5"/>
<line x1="792" x2="796" y1="414.5" y2="414.5"/>
<line x1="792" x2="796" y1="458.5" y2="458.5"/>
<line x1="792" x2="796" y1="502.5" y2="502.5"/>
<line x1="828.5" x2="828.5" y1="62" y2="503"/>
<line x1="824" x2="833" y1="62.5" y2="62.5"/>
<line x1="824" x2="833" y1="502.5" y2="502.5"/>
<line x1="829" x2="833" y1="62.5" y2="62.5"/>
<line x1="829" x2="833" y1="106.5" y2="106.5"/>
<line x1="829" x2="833" y1="150.5" y2="150.5"/>
<line x1="829" x2="833" y1="194.5" y2="194.5"/>
<line x1="829" x2="833" y1="238.5" y2="238.5"/>
<line x1="829" x2="833" y1="282.5" y2="282.5"/>
<line x1="829" x2="833" y1="326.5" y2="326.5"/>
<line x1="829" x2="833" y1="370.5" y2="370.5"/>
<line x1="829" x2="833" y1="414.5" y2="414.5"/>
<line x1="829" x2="833" y1="458.5" y2="458.5"/>
<line x1="829" x2="833" y1="502.5" y2="502.5"/>
<line x1="865.5" x2="865.5" y1="62" y2="503"/>
<line x1="861" x2="870" y1="62.5" y2="62.5"/>
<line x1="861" x2="870" y1="502.5" y2="502.5"/>
<line x1="866" x2="870" y1="62.5" y2="62.5"/>
<line x1="866" x2="870" y1="106.5" y2="106.5"/>
<line x1="866" x2="870" y1="150.5" y2="150.5"/>
<line x1="866" x2="870" y1="194.5" y2="194.5"/>
<line x1="866" x2="870" y1="238.5" y2="238.5"/>
<line x1="866" x2="870" y1="282.5" y2="282.5"/>
<line x1="866" x2="870" y1="326.5" y2="326.5"/>
<line x1="866" x2="870" y1="370.5" y2="370.5"/>
<line x1="866" x2="870" y1="414.5" y2="414.5"/>
<line x1="866" x2="870" y1="458.5" y2="458.5"/>
<line x1="866" x2="870" y1="502.5" y2="502.5"/>
<line x1="902.5" x2="902.5" y1="62" y2="503"/>
<line x1="898" x2="907" y1="62.5" y2="62.5"/>
<line x1="898" x2="907" y1="502.5" y2="502.5"/>
<line x1="903" x2="907" y1="62.5" y2="62.5"/>
<line x1="903" x2="907" y1="84.5" y2="84.5"/>
<line x1="903" x2="907" y1="106.5" y2="106.5"/>
<line x1="903" x2="907" y1="128.5" y2="128.5"/>
<line x1="903" x2="907" y1="150.5" y2="150.5"/>
<line x1="903" x2="907" y1="172.5" y2="172.5"/>
<line x1="903" x2="907" y1="194.5" y2="194.5"/>
<line x1="903" x2="907" y1="216.5" y2="216.5"/>
<line x1="903" x2="907" y1="238.5" y2="238.5"/>
<line x1="903" x2="907" y1="260.5" y2="260.5"/>
<line x1="903" x2="907" y1="282.5" y2="282.5"/>
<line x1="903" x2="907" y1="304.5" y2="304.5"/>
<line x1="903" x2="907" y1="326.5" y2="326.5"/>
<line x1="903" x2="907" y1="348.5" y2="348.5"/>
<line x1="903" x2="907" y1="370.5" y2="370.5"/>
<line x1="903" x2="907" y1="392.5" y2="392.5"/>
<line x1="903" x2="907" y1="414.5" y2="414.5"/>
<line x1="903" x2="907" y1="436.5" y2="436.5"/>
<line x1="903" x2="907" y1="458.5" y2="458.5"/>
<line x1="903" x2="907" y1="480.5" y2="480.5"/>
<line x1="903" x2="907" y1="502.5" y2="502.5"/>
<line x1="151.5" x2="151.5" y1="503" y2="507"/>
<line x1="243.5" x2="243.5" y1="503" y2="507"/>
<line x1="335.5" x2="335.5" y1="503" y2="507"/>
<line x1="427.5" x2="427.5" y1="503" y2="507"/>
<line x1="519.5" x2="519.5" y1="503" y2="507"/>
<line x1="611.5" x2="611.5" y1="503" y2="507"/>
<line x1="703.5" x2="703.5" y1="503" y2="507"/>
</g>
<text transform="translate(34.5 67) scale(0.86 1)" font-size="12.5" fill="#e00000" stroke="#e00000" stroke-width="0.15" text-anchor="end">40.0</text>
<text transform="translate(34.5 101) scale(0.86 1)" font-size="12.5" fill="#e00000" stroke="#e00000" stroke-width="0.15" text-anchor="end">35.0</text>
<text transform="translate(34.5 135) scale(0.86 1)" font-size="12.5" fill="#e00000" stroke="#e00000" stroke-width="0.15" text-anchor="end">30.0</text>
<text transform="translate(34.5 169) scale(0.86 1)" font-size="12.5" fill="#e00000" stroke="#e00000" stroke-width="0.15" text-anchor="end">25.0</text>
<text transform="translate(34.5 202) scale(0.86 1)" font-size="12.5" fill="#e00000" stroke="#e00000" stroke-width="0.15" text-anchor="end">20.0</text>
<text transform="translate(34.5 236) scale(0.86 1)" font-size="12.5" fill="#e00000" stroke="#e00000" stroke-width="0.15" text-anchor="end">15.0</text>
<text transform="translate(34.5 270) scale(0.86 1)" font-size="12.5" fill="#e00000" stroke="#e00000" stroke-width="0.15" text-anchor="end">10.0</text>
<text transform="translate(34.5 304) scale(0.86 1)" font-size="12.5" fill="#e00000" stroke="#e00000" stroke-width="0.15" text-anchor="end">5.0</text>
<text transform="translate(34.5 338) scale(0.86 1)" font-size="12.5" fill="#e00000" stroke="#e00000" stroke-width="0.15" text-anchor="end">0.0</text>
<text transform="translate(34.5 372) scale(0.86 1)" font-size="12.5" fill="#e00000" stroke="#e00000" stroke-width="0.15" text-anchor="end">-5.0</text>
<text transform="translate(34.5 405) scale(0.86 1)" font-size="12.5" fill="#e00000" stroke="#e00000" stroke-width="0.15" text-anchor="end">-10.0</text>
<text transform="translate(34.5 439) scale(0.86 1)" font-size="12.5" fill="#e00000" stroke="#e00000" stroke-width="0.15" text-anchor="end">-15.0</text>
<text transform="translate(34.5 473) scale(0.86 1)" font-size="12.5" fill="#e00000" stroke="#e00000" stroke-width="0.15" text-anchor="end">-20.0</text>
<text transform="translate(34.5 507) scale(0.86 1)" font-size="12.5" fill="#e00000" stroke="#e00000" stroke-width="0.15" text-anchor="end">-25.0</text>
<text transform="translate(71 67) scale(0.86 1)" font-size="12.5" fill="#008040" stroke="#008040" stroke-width="0.15" text-anchor="end">1040</text>
<text transform="translate(71 111) scale(0.86 1)" font-size="12.5" fill="#008040" stroke="#008040" stroke-width="0.15" text-anchor="end">1035</text>
<text transform="translate(71 155) scale(0.86 1)" font-size="12.5" fill="#008040" stroke="#008040" stroke-width="0.15" text-anchor="end">1030</text>
<text transform="translate(71 199) scale(0.86 1)" font-size="12.5" fill="#008040" stroke="#008040" stroke-width="0.15" text-anchor="end">1025</text>
<text transform="translate(71 243) scale(0.86 1)" font-size="12.5" fill="#008040" stroke="#008040" stroke-width="0.15" text-anchor="end">1020</text>
<text transform="translate(71 287) scale(0.86 1)" font-size="12.5" fill="#008040" stroke="#008040" stroke-width="0.15" text-anchor="end">1015</text>
<text transform="translate(71 331) scale(0.86 1)" font-size="12.5" fill="#008040" stroke="#008040" stroke-width="0.15" text-anchor="end">1010</text>
<text transform="translate(71 375) scale(0.86 1)" font-size="12.5" fill="#008040" stroke="#008040" stroke-width="0.15" text-anchor="end">1005</text>
<text transform="translate(71 419) scale(0.86 1)" font-size="12.5" fill="#008040" stroke="#008040" stroke-width="0.15" text-anchor="end">1000</text>
<text transform="translate(71 463) scale(0.86 1)" font-size="12.5" fill="#008040" stroke="#008040" stroke-width="0.15" text-anchor="end">995</text>
<text transform="translate(71 507) scale(0.86 1)" font-size="12.5" fill="#008040" stroke="#008040" stroke-width="0.15" text-anchor="end">990</text>
<text transform="translate(107.5 67) scale(0.86 1)" font-size="12.5" fill="#808080" stroke="#808080" stroke-width="0.15" text-anchor="end">N</text>
<text transform="translate(97 67) scale(0.86 1)" font-size="12.5" fill="#808080" stroke="#808080" stroke-width="0.15" text-anchor="end">360</text>
<text transform="translate(107.5 104) scale(0.86 1)" font-size="12.5" fill="#808080" stroke="#808080" stroke-width="0.15" text-anchor="end">330</text>
<text transform="translate(107.5 140) scale(0.86 1)" font-size="12.5" fill="#808080" stroke="#808080" stroke-width="0.15" text-anchor="end">300</text>
<text transform="translate(107.5 177) scale(0.86 1)" font-size="12.5" fill="#808080" stroke="#808080" stroke-width="0.15" text-anchor="end">W</text>
<text transform="translate(94 177) scale(0.86 1)" font-size="12.5" fill="#808080" stroke="#808080" stroke-width="0.15" text-anchor="end">270</text>
<text transform="translate(107.5 214) scale(0.86 1)" font-size="12.5" fill="#808080" stroke="#808080" stroke-width="0.15" text-anchor="end">240</text>
<text transform="translate(107.5 250) scale(0.86 1)" font-size="12.5" fill="#808080" stroke="#808080" stroke-width="0.15" text-anchor="end">210</text>
<text transform="translate(107.5 287) scale(0.86 1)" font-size="12.5" fill="#808080" stroke="#808080" stroke-width="0.15" text-anchor="end">S</text>
<text transform="translate(97 287) scale(0.86 1)" font-size="12.5" fill="#808080" stroke="#808080" stroke-width="0.15" text-anchor="end">180</text>
<text transform="translate(107.5 324) scale(0.86 1)" font-size="12.5" fill="#808080" stroke="#808080" stroke-width="0.15" text-anchor="end">150</text>
<text transform="translate(107.5 360) scale(0.86 1)" font-size="12.5" fill="#808080" stroke="#808080" stroke-width="0.15" text-anchor="end">120</text>
<text transform="translate(107.5 397) scale(0.86 1)" font-size="12.5" fill="#808080" stroke="#808080" stroke-width="0.15" text-anchor="end">O</text>
<text transform="translate(94 397) scale(0.86 1)" font-size="12.5" fill="#808080" stroke="#808080" stroke-width="0.15" text-anchor="end">90</text>
<text transform="translate(107.5 434) scale(0.86 1)" font-size="12.5" fill="#808080" stroke="#808080" stroke-width="0.15" text-anchor="end">60</text>
<text transform="translate(107.5 470) scale(0.86 1)" font-size="12.5" fill="#808080" stroke="#808080" stroke-width="0.15" text-anchor="end">30</text>
<text transform="translate(107.5 507) scale(0.86 1)" font-size="12.5" fill="#808080" stroke="#808080" stroke-width="0.15" text-anchor="end">N</text>
<text transform="translate(88.5 507) scale(0.86 1)" font-size="12.5" fill="#808080" stroke="#808080" stroke-width="0.15" text-anchor="end">0</text>
<text transform="translate(145 67) scale(0.86 1)" font-size="12.5" fill="#b0b000" stroke="#b0b000" stroke-width="0.15" text-anchor="end">1000</text>
<text transform="translate(145 89) scale(0.86 1)" font-size="12.5" fill="#b0b000" stroke="#b0b000" stroke-width="0.15" text-anchor="end">950</text>
<text transform="translate(145 111) scale(0.86 1)" font-size="12.5" fill="#b0b000" stroke="#b0b000" stroke-width="0.15" text-anchor="end">900</text>
<text transform="translate(145 133) scale(0.86 1)" font-size="12.5" fill="#b0b000" stroke="#b0b000" stroke-width="0.15" text-anchor="end">850</text>
<text transform="translate(145 155) scale(0.86 1)" font-size="12.5" fill="#b0b000" stroke="#b0b000" stroke-width="0.15" text-anchor="end">800</text>
<text transform="translate(145 177) scale(0.86 1)" font-size="12.5" fill="#b0b000" stroke="#b0b000" stroke-width="0.15" text-anchor="end">750</text>
<text transform="translate(145 199) scale(0.86 1)" font-size="12.5" fill="#b0b000" stroke="#b0b000" stroke-width="0.15" text-anchor="end">700</text>
<text transform="translate(145 221) scale(0.86 1)" font-size="12.5" fill="#b0b000" stroke="#b0b000" stroke-width="0.15" text-anchor="end">650</text>
<text transform="translate(145 243) scale(0.86 1)" font-size="12.5" fill="#b0b000" stroke="#b0b000" stroke-width="0.15" text-anchor="end">600</text>
<text transform="translate(145 265) scale(0.86 1)" font-size="12.5" fill="#b0b000" stroke="#b0b000" stroke-width="0.15" text-anchor="end">550</text>
<text transform="translate(145 287) scale(0.86 1)" font-size="12.5" fill="#b0b000" stroke="#b0b000" stroke-width="0.15" text-anchor="end">500</text>
<text transform="translate(145 309) scale(0.86 1)" font-size="12.5" fill="#b0b000" stroke="#b0b000" stroke-width="0.15" text-anchor="end">450</text>
<text transform="translate(145 331) scale(0.86 1)" font-size="12.5" fill="#b0b000" stroke="#b0b000" stroke-width="0.15" text-anchor="end">400</text>
<text transform="translate(145 353) scale(0.86 1)" font-size="12.5" fill="#b0b000" stroke="#b0b000" stroke-width="0.15" text-anchor="end">350</text>
<text transform="translate(145 375) scale(0.86 1)" font-size="12.5" fill="#b0b000" stroke="#b0b000" stroke-width="0.15" text-anchor="end">300</text>
<text transform="translate(145 397) scale(0.86 1)" font-size="12.5" fill="#b0b000" stroke="#b0b000" stroke-width="0.15" text-anchor="end">250</text>
<text transform="translate(145 419) scale(0.86 1)" font-size="12.5" fill="#b0b000" stroke="#b0b000" stroke-width="0.15" text-anchor="end">200</text>
<text transform="translate(145 441) scale(0.86 1)" font-size="12.5" fill="#b0b000" stroke="#b0b000" stroke-width="0.15" text-anchor="end">150</text>
<text transform="translate(145 463) scale(0.86 1)" font-size="12.5" fill="#b0b000" stroke="#b0b000" stroke-width="0.15" text-anchor="end">100</text>
<text transform="translate(145 485) scale(0.86 1)" font-size="12.5" fill="#b0b000" stroke="#b0b000" stroke-width="0.15" text-anchor="end">50</text>
<text transform="translate(145 507) scale(0.86 1)" font-size="12.5" fill="#b0b000" stroke="#b0b000" stroke-width="0.15" text-anchor="end">0</text>
<text transform="translate(798 67) scale(0.86 1)" font-size="12.5" fill="#0080c0" stroke="#0080c0" stroke-width="0.15">100</text>
<text transform="translate(835 67) scale(0.86 1)" font-size="12.5" fill="#0000a0" stroke="#0000a0" stroke-width="0.15">10.0</text>
<text transform="translate(872 67) scale(0.86 1)" font-size="12.5" fill="#a0a000" stroke="#a0a000" stroke-width="0.15">10</text>
<text transform="translate(798 111) scale(0.86 1)" font-size="12.5" fill="#0080c0" stroke="#0080c0" stroke-width="0.15">90</text>
<text transform="translate(835 111) scale(0.86 1)" font-size="12.5" fill="#0000a0" stroke="#0000a0" stroke-width="0.15">9.0</text>
<text transform="translate(872 111) scale(0.86 1)" font-size="12.5" fill="#a0a000" stroke="#a0a000" stroke-width="0.15">9</text>
<text transform="translate(798 155) scale(0.86 1)" font-size="12.5" fill="#0080c0" stroke="#0080c0" stroke-width="0.15">80</text>
<text transform="translate(835 155) scale(0.86 1)" font-size="12.5" fill="#0000a0" stroke="#0000a0" stroke-width="0.15">8.0</text>
<text transform="translate(872 155) scale(0.86 1)" font-size="12.5" fill="#a0a000" stroke="#a0a000" stroke-width="0.15">8</text>
<text transform="translate(798 199) scale(0.86 1)" font-size="12.5" fill="#0080c0" stroke="#0080c0" stroke-width="0.15">70</text>
<text transform="translate(835 199) scale(0.86 1)" font-size="12.5" fill="#0000a0" stroke="#0000a0" stroke-width="0.15">7.0</text>
<text transform="translate(872 199) scale(0.86 1)" font-size="12.5" fill="#a0a000" stroke="#a0a000" stroke-width="0.15">7</text>
<text transform="translate(798 243) scale(0.86 1)" font-size="12.5" fill="#0080c0" stroke="#0080c0" stroke-width="0.15">60</text>
<text transform="translate(835 243) scale(0.86 1)" font-size="12.5" fill="#0000a0" stroke="#0000a0" stroke-width="0.15">6.0</text>
<text transform="translate(872 243) scale(0.86 1)" font-size="12.5" fill="#a0a000" stroke="#a0a000" stroke-width="0.15">6</text>
<text transform="translate(798 287) scale(0.86 1)" font-size="12.5" fill="#0080c0" stroke="#0080c0" stroke-width="0.15">50</text>
<text transform="translate(835 287) scale(0.86 1)" font-size="12.5" fill="#0000a0" stroke="#0000a0" stroke-width="0.15">5.0</text>
<text transform="translate(872 287) scale(0.86 1)" font-size="12.5" fill="#a0a000" stroke="#a0a000" stroke-width="0.15">5</text>
<text transform="translate(798 331) scale(0.86 1)" font-size="12.5" fill="#0080c0" stroke="#0080c0" stroke-width="0.15">40</text>
<text transform="translate(835 331) scale(0.86 1)" font-size="12.5" fill="#0000a0" stroke="#0000a0" stroke-width="0.15">4.0</text>
<text transform="translate(872 331) scale(0.86 1)" font-size="12.5" fill="#a0a000" stroke="#a0a000" stroke-width="0.15">4</text>
<text transform="translate(798 375) scale(0.86 1)" font-size="12.5" fill="#0080c0" stroke="#0080c0" stroke-width="0.15">30</text>
<text transform="translate(835 375) scale(0.86 1)" font-size="12.5" fill="#0000a0" stroke="#0000a0" stroke-width="0.15">3.0</text>
<text transform="translate(872 375) scale(0.86 1)" font-size="12.5" fill="#a0a000" stroke="#a0a000" stroke-width="0.15">3</text>
<text transform="translate(798 419) scale(0.86 1)" font-size="12.5" fill="#0080c0" stroke="#0080c0" stroke-width="0.15">20</text>
<text transform="translate(835 419) scale(0.86 1)" font-size="12.5" fill="#0000a0" stroke="#0000a0" stroke-width="0.15">2.0</text>
<text transform="translate(872 419) scale(0.86 1)" font-size="12.5" fill="#a0a000" stroke="#a0a000" stroke-width="0.15">2</text>
<text transform="translate(798 463) scale(0.86 1)" font-size="12.5" fill="#0080c0" stroke="#0080c0" stroke-width="0.15">10</text>
<text transform="translate(835 463) scale(0.86 1)" font-size="12.5" fill="#0000a0" stroke="#0000a0" stroke-width="0.15">1.0</text>
<text transform="translate(872 463) scale(0.86 1)" font-size="12.5" fill="#a0a000" stroke="#a0a000" stroke-width="0.15">1</text>
<text transform="translate(798 507) scale(0.86 1)" font-size="12.5" fill="#0080c0" stroke="#0080c0" stroke-width="0.15">0</text>
<text transform="translate(835 507) scale(0.86 1)" font-size="12.5" fill="#0000a0" stroke="#0000a0" stroke-width="0.15">0.0</text>
<text transform="translate(872 507) scale(0.86 1)" font-size="12.5" fill="#a0a000" stroke="#a0a000" stroke-width="0.15">0</text>
<text transform="translate(909 67) scale(0.86 1)" font-size="12.5" fill="#e08000" stroke="#e08000" stroke-width="0.15">100.0</text>
<text transform="translate(909 89) scale(0.86 1)" font-size="12.5" fill="#e08000" stroke="#e08000" stroke-width="0.15">95.0</text>
<text transform="translate(909 111) scale(0.86 1)" font-size="12.5" fill="#e08000" stroke="#e08000" stroke-width="0.15">90.0</text>
<text transform="translate(909 133) scale(0.86 1)" font-size="12.5" fill="#e08000" stroke="#e08000" stroke-width="0.15">85.0</text>
<text transform="translate(909 155) scale(0.86 1)" font-size="12.5" fill="#e08000" stroke="#e08000" stroke-width="0.15">80.0</text>
<text transform="translate(909 177) scale(0.86 1)" font-size="12.5" fill="#e08000" stroke="#e08000" stroke-width="0.15">75.0</text>
<text transform="translate(909 199) scale(0.86 1)" font-size="12.5" fill="#e08000" stroke="#e08000" stroke-width="0.15">70.0</text>
<text transform="translate(909 221) scale(0.86 1)" font-size="12.5" fill="#e08000" stroke="#e08000" stroke-width="0.15">65.0</text>
<text transform="translate(909 243) scale(0.86 1)" font-size="12.5" fill="#e08000" stroke="#e08000" stroke-width="0.15">60.0</text>
<text transform="translate(909 265) scale(0.86 1)" font-size="12.5" fill="#e08000" stroke="#e08000" stroke-width="0.15">55.0</text>
<text transform="translate(909 287) scale(0.86 1)" font-size="12.5" fill="#e08000" stroke="#e08000" stroke-width="0.15">50.0</text>
<text transform="translate(909 309) scale(0.86 1)" font-size="12.5" fill="#e08000" stroke="#e08000" stroke-width="0.15">45.0</text>
<text transform="translate(909 331) scale(0.86 1)" font-size="12.5" fill="#e08000" stroke="#e08000" stroke-width="0.15">40.0</text>
<text transform="translate(909 353) scale(0.86 1)" font-size="12.5" fill="#e08000" stroke="#e08000" stroke-width="0.15">35.0</text>
<text transform="translate(909 375) scale(0.86 1)" font-size="12.5" fill="#e08000" stroke="#e08000" stroke-width="0.15">30.0</text>
<text transform="translate(909 397) scale(0.86 1)" font-size="12.5" fill="#e08000" stroke="#e08000" stroke-width="0.15">25.0</text>
<text transform="translate(909 419) scale(0.86 1)" font-size="12.5" fill="#e08000" stroke="#e08000" stroke-width="0.15">20.0</text>
<text transform="translate(909 441) scale(0.86 1)" font-size="12.5" fill="#e08000" stroke="#e08000" stroke-width="0.15">15.0</text>
<text transform="translate(909 463) scale(0.86 1)" font-size="12.5" fill="#e08000" stroke="#e08000" stroke-width="0.15">10.0</text>
<text transform="translate(909 485) scale(0.86 1)" font-size="12.5" fill="#e08000" stroke="#e08000" stroke-width="0.15">5.0</text>
<text transform="translate(909 507) scale(0.86 1)" font-size="12.5" fill="#e08000" stroke="#e08000" stroke-width="0.15">0.0</text>
<text transform="translate(30 51) scale(0.86 1)" font-size="12.5" fill="#e00000" stroke="#e00000" stroke-width="0.15" text-anchor="end">°C</text>
<text transform="translate(48 51) scale(0.86 1)" font-size="12.5" fill="#008040" stroke="#008040" stroke-width="0.15">hPa</text>
<text transform="translate(102 51) scale(0.86 1)" font-size="12.5" fill="#808080" stroke="#808080" stroke-width="0.15">°</text>
<text transform="translate(114 51) scale(0.86 1)" font-size="12.5" fill="#b0b000" stroke="#b0b000" stroke-width="0.15" textLength="31.40" lengthAdjust="spacingAndGlyphs">W/m²</text>
<text transform="translate(792 51) scale(0.86 1)" font-size="12.5" fill="#0080c0" stroke="#0080c0" stroke-width="0.15">%</text>
<text transform="translate(828 51) scale(0.86 1)" font-size="12.5" fill="#0000a0" stroke="#0000a0" stroke-width="0.15">l/m²</text>
<text transform="translate(865 51) scale(0.86 1)" font-size="12.5" fill="#a0a000" stroke="#a0a000" stroke-width="0.15">h</text>
<text transform="translate(902 51) scale(0.86 1)" font-size="12.5" fill="#e08000" stroke="#e08000" stroke-width="0.15">km/h</text>
<text transform="translate(137 521) scale(0.86 1)" font-size="12.5" fill="#000" stroke="#000" stroke-width="0.15">20.05.  Mo</text>
<text transform="translate(229 521) scale(0.86 1)" font-size="12.5" fill="#000" stroke="#000" stroke-width="0.15">21.05.  Di</text>
<text transform="translate(321 521) scale(0.86 1)" font-size="12.5" fill="#000" stroke="#000" stroke-width="0.15">22.05.  Mi</text>
<text transform="translate(413 521) scale(0.86 1)" font-size="12.5" fill="#000" stroke="#000" stroke-width="0.15">23.05.  Do</text>
<text transform="translate(505 521) scale(0.86 1)" font-size="12.5" fill="#000" stroke="#000" stroke-width="0.15">24.05.  Fr</text>
<text transform="translate(597 521) scale(0.86 1)" font-size="12.5" fill="#000" stroke="#000" stroke-width="0.15">25.05.  Sa</text>
<text transform="translate(689 521) scale(0.86 1)" font-size="12.5" fill="#000" stroke="#000" stroke-width="0.15">26.05.  So</text>
<defs><linearGradient id="dg" x1="0" y1="0" x2="0" y2="1"><stop offset="0.000" stop-color="#0b4a94"/><stop offset="0.080" stop-color="#0f5aaa"/><stop offset="0.160" stop-color="#1a74c8"/><stop offset="0.256" stop-color="#2d92da"/><stop offset="0.400" stop-color="#3c9fdc"/><stop offset="0.480" stop-color="#38a4e2"/><stop offset="0.640" stop-color="#109ae0"/><stop offset="0.704" stop-color="#0a7cd2"/><stop offset="0.800" stop-color="#0d62b6"/><stop offset="0.896" stop-color="#0c50a0"/><stop offset="1.000" stop-color="#0b4288"/></linearGradient><linearGradient id="dh" x1="0" y1="0" x2="1" y2="0"><stop offset="0" stop-color="#fff" stop-opacity="0.10"/><stop offset="1" stop-color="#000" stop-opacity="0.12"/></linearGradient></defs>
<rect x="942" y="0" width="8" height="625" fill="url(#dg)"/>
<rect x="942" y="0" width="8" height="625" fill="url(#dh)"/>
<rect x="942" y="277" width="8" height="12" fill="#0a468c"/>
<rect x="942" y="276" width="8" height="1" fill="#6cc0ea"/>
<rect x="942" y="289" width="8" height="1" fill="#6cc0ea"/>
<rect x="942" y="0" width="1" height="625" fill="#1878d0" opacity="0.6"/>
<rect x="942" y="172" width="8" height="2" fill="#6cb8ea" opacity="0.6"/>
<rect x="942" y="392" width="8" height="2" fill="#6cb8ea" opacity="0.6"/>
<rect x="1" y="534" width="940" height="90" fill="#000040"/>
<rect x="941" y="534" width="1" height="91" fill="#a0a0a0"/>
<rect x="0" y="624" width="942" height="1" fill="#a0a0a0"/>
<g shape-rendering="crispEdges">
<rect x="87" y="534" width="1" height="90" fill="#ffffff"/>
<rect x="88" y="534" width="1" height="90" fill="#b8b0a0"/>
<rect x="204" y="534" width="1" height="90" fill="#ffffff"/>
<rect x="205" y="534" width="1" height="90" fill="#b8b0a0"/>
<rect x="322" y="534" width="1" height="90" fill="#ffffff"/>
<rect x="323" y="534" width="1" height="90" fill="#b8b0a0"/>
<rect x="440" y="534" width="1" height="90" fill="#ffffff"/>
<rect x="441" y="534" width="1" height="90" fill="#b8b0a0"/>
<rect x="558" y="534" width="1" height="90" fill="#ffffff"/>
<rect x="559" y="534" width="1" height="90" fill="#b8b0a0"/>
<rect x="676" y="534" width="1" height="90" fill="#ffffff"/>
<rect x="677" y="534" width="1" height="90" fill="#b8b0a0"/>
<rect x="794" y="534" width="1" height="90" fill="#ffffff"/>
<rect x="795" y="534" width="1" height="90" fill="#b8b0a0"/>
</g>
<text transform="translate(9 552) scale(0.915 1)" font-size="12.5" fill="#fff" stroke="#fff" stroke-width="0.15" font-weight="bold" textLength="42.08" lengthAdjust="spacingAndGlyphs">Sensor</text>
<text transform="translate(9 568) scale(0.915 1)" font-size="12.5" fill="#fff" stroke="#fff" stroke-width="0.15" font-weight="bold" textLength="50.82" lengthAdjust="spacingAndGlyphs">MinWert</text>
<text transform="translate(9 584) scale(0.915 1)" font-size="12.5" fill="#fff" stroke="#fff" stroke-width="0.15" font-weight="bold" textLength="53.55" lengthAdjust="spacingAndGlyphs">MaxWert</text>
<text transform="translate(9 600) scale(0.915 1)" font-size="12.5" fill="#fff" stroke="#fff" stroke-width="0.15" font-weight="bold" textLength="77.60" lengthAdjust="spacingAndGlyphs">Durchschnitt</text>
<text transform="translate(9 616) scale(0.915 1)" font-size="12.5" fill="#fff" stroke="#fff" stroke-width="0.15" font-weight="bold" textLength="77.60" lengthAdjust="spacingAndGlyphs">26.05.  23:00</text>
<text transform="translate(95 552) scale(0.915 1)" font-size="12.5" fill="#fff" stroke="#fff" stroke-width="0.15" font-weight="bold" textLength="68.85" lengthAdjust="spacingAndGlyphs">Temperatur</text>
<text transform="translate(198 552) scale(0.915 1)" font-size="12.5" fill="#fff" stroke="#fff" stroke-width="0.15" text-anchor="end" font-weight="bold" textLength="12.57" lengthAdjust="spacingAndGlyphs">°C</text>
<text transform="translate(95 568) scale(0.86 1)" font-size="12.5" fill="#fff" stroke="#fff" stroke-width="0.15" textLength="72.09" lengthAdjust="spacingAndGlyphs">23.05.  05:45</text>
<text transform="translate(198 568) scale(0.86 1)" font-size="12.5" fill="#fff" stroke="#fff" stroke-width="0.15" text-anchor="end">6.1</text>
<text transform="translate(95 584) scale(0.86 1)" font-size="12.5" fill="#fff" stroke="#fff" stroke-width="0.15" textLength="72.09" lengthAdjust="spacingAndGlyphs">24.05.  14:15</text>
<text transform="translate(198 584) scale(0.86 1)" font-size="12.5" fill="#fff" stroke="#fff" stroke-width="0.15" text-anchor="end">22.4</text>
<text transform="translate(198 600) scale(0.86 1)" font-size="12.5" fill="#fff" stroke="#fff" stroke-width="0.15" text-anchor="end">12.93</text>
<text x="198" y="616" font-size="12.5" fill="#fff" text-anchor="end" font-weight="bold">11.8</text>
<path d="M168.5 607 V615 M165.5 612 L168.5 615.5 L171.5 612" fill="none" stroke="#0000ff" stroke-width="1.6"/>
<text transform="translate(213 552) scale(0.915 1)" font-size="12.5" fill="#fff" stroke="#fff" stroke-width="0.15" font-weight="bold" textLength="69.95" lengthAdjust="spacingAndGlyphs">Luftfeuchte</text>
<text transform="translate(316 552) scale(0.915 1)" font-size="12.5" fill="#fff" stroke="#fff" stroke-width="0.15" text-anchor="end" font-weight="bold" textLength="9.29" lengthAdjust="spacingAndGlyphs">%</text>
<text transform="translate(213 568) scale(0.86 1)" font-size="12.5" fill="#fff" stroke="#fff" stroke-width="0.15" textLength="72.09" lengthAdjust="spacingAndGlyphs">24.05.  14:15</text>
<text transform="translate(316 568) scale(0.86 1)" font-size="12.5" fill="#fff" stroke="#fff" stroke-width="0.15" text-anchor="end">37</text>
<text transform="translate(213 584) scale(0.86 1)" font-size="12.5" fill="#fff" stroke="#fff" stroke-width="0.15" textLength="72.09" lengthAdjust="spacingAndGlyphs">20.05.  07:10</text>
<text transform="translate(316 584) scale(0.86 1)" font-size="12.5" fill="#fff" stroke="#fff" stroke-width="0.15" text-anchor="end">100</text>
<text transform="translate(316 600) scale(0.86 1)" font-size="12.5" fill="#fff" stroke="#fff" stroke-width="0.15" text-anchor="end">85</text>
<text transform="translate(216 616) scale(0.86 1)" font-size="12.5" fill="#fff" stroke="#fff" stroke-width="0.15" textLength="52.33" lengthAdjust="spacingAndGlyphs">9.80 g/m³</text>
<text x="316" y="616" font-size="12.5" fill="#fff" text-anchor="end" font-weight="bold">93</text>
<text transform="translate(331 552) scale(0.915 1)" font-size="12.5" fill="#fff" stroke="#fff" stroke-width="0.15" font-weight="bold" textLength="56.83" lengthAdjust="spacingAndGlyphs">Luftdruck</text>
<text transform="translate(434 552) scale(0.915 1)" font-size="12.5" fill="#fff" stroke="#fff" stroke-width="0.15" text-anchor="end" font-weight="bold" textLength="22.95" lengthAdjust="spacingAndGlyphs">hPa</text>
<text transform="translate(331 568) scale(0.86 1)" font-size="12.5" fill="#fff" stroke="#fff" stroke-width="0.15" textLength="72.09" lengthAdjust="spacingAndGlyphs">20.05.  03:05</text>
<text transform="translate(434 568) scale(0.86 1)" font-size="12.5" fill="#fff" stroke="#fff" stroke-width="0.15" text-anchor="end">1000.1</text>
<text transform="translate(331 584) scale(0.86 1)" font-size="12.5" fill="#fff" stroke="#fff" stroke-width="0.15" textLength="72.09" lengthAdjust="spacingAndGlyphs">23.05.  01:00</text>
<text transform="translate(434 584) scale(0.86 1)" font-size="12.5" fill="#fff" stroke="#fff" stroke-width="0.15" text-anchor="end">1018.0</text>
<text transform="translate(331 600) scale(0.86 1)" font-size="12.5" fill="#fff" stroke="#fff" stroke-width="0.15" textLength="58.14" lengthAdjust="spacingAndGlyphs">^0.9hPa/h</text>
<text transform="translate(434 600) scale(0.86 1)" font-size="12.5" fill="#fff" stroke="#fff" stroke-width="0.15" text-anchor="end">1011.7</text>
<text x="434" y="616" font-size="12.5" fill="#fff" text-anchor="end" font-weight="bold">1011.6</text>
<text transform="translate(449 552) scale(0.915 1)" font-size="12.5" fill="#fff" stroke="#fff" stroke-width="0.15" font-weight="bold" textLength="31.69" lengthAdjust="spacingAndGlyphs">Wind</text>
<text transform="translate(552 552) scale(0.915 1)" font-size="12.5" fill="#fff" stroke="#fff" stroke-width="0.15" text-anchor="end" font-weight="bold" textLength="30.60" lengthAdjust="spacingAndGlyphs">km/h</text>
<text transform="translate(449 568) scale(0.86 1)" font-size="12.5" fill="#fff" stroke="#fff" stroke-width="0.15" textLength="72.09" lengthAdjust="spacingAndGlyphs">20.05.  00:00</text>
<text transform="translate(552 568) scale(0.86 1)" font-size="12.5" fill="#fff" stroke="#fff" stroke-width="0.15" text-anchor="end">0.0</text>
<text transform="translate(449 584) scale(0.86 1)" font-size="12.5" fill="#fff" stroke="#fff" stroke-width="0.15" textLength="72.09" lengthAdjust="spacingAndGlyphs">21.05.  02:00</text>
<text transform="translate(552 584) scale(0.86 1)" font-size="12.5" fill="#fff" stroke="#fff" stroke-width="0.15" text-anchor="end">33.8</text>
<text transform="translate(552 600) scale(0.86 1)" font-size="12.5" fill="#fff" stroke="#fff" stroke-width="0.15" text-anchor="end">7.0</text>
<text transform="translate(455 616) scale(0.86 1)" font-size="12.5" fill="#fff" stroke="#fff" stroke-width="0.15" textLength="36.05" lengthAdjust="spacingAndGlyphs">0 Bft N</text>
<text x="552" y="616" font-size="12.5" fill="#fff" text-anchor="end" font-weight="bold">0.0</text>
<text transform="translate(567 552) scale(0.915 1)" font-size="12.5" fill="#fff" stroke="#fff" stroke-width="0.15" font-weight="bold" textLength="79.78" lengthAdjust="spacingAndGlyphs">Niederschlag</text>
<text transform="translate(670 552) scale(0.915 1)" font-size="12.5" fill="#fff" stroke="#fff" stroke-width="0.15" text-anchor="end" font-weight="bold" textLength="22.95" lengthAdjust="spacingAndGlyphs">l/m²</text>
<text transform="translate(567 584) scale(0.86 1)" font-size="12.5" fill="#fff" stroke="#fff" stroke-width="0.15" textLength="72.09" lengthAdjust="spacingAndGlyphs">20.05.  21:40</text>
<text transform="translate(670 584) scale(0.86 1)" font-size="12.5" fill="#fff" stroke="#fff" stroke-width="0.15" text-anchor="end">6.8</text>
<text transform="translate(567 600) scale(0.86 1)" font-size="12.5" fill="#fff" stroke="#fff" stroke-width="0.15" textLength="43.02" lengthAdjust="spacingAndGlyphs">Gesamt:</text>
<text transform="translate(670 600) scale(0.86 1)" font-size="12.5" fill="#fff" stroke="#fff" stroke-width="0.15" text-anchor="end">57.2</text>
<text transform="translate(570 616) scale(0.86 1)" font-size="12.5" fill="#fff" stroke="#fff" stroke-width="0.15" textLength="47.67" lengthAdjust="spacingAndGlyphs">57.2 l/m²</text>
<text x="670" y="616" font-size="12.5" fill="#fff" text-anchor="end" font-weight="bold">0.0</text>
<text transform="translate(685 552) scale(0.915 1)" font-size="12.5" fill="#fff" stroke="#fff" stroke-width="0.15" font-weight="bold" textLength="30.05" lengthAdjust="spacingAndGlyphs">Solar</text>
<text transform="translate(788 552) scale(0.915 1)" font-size="12.5" fill="#fff" stroke="#fff" stroke-width="0.15" text-anchor="end" font-weight="bold" textLength="33.33" lengthAdjust="spacingAndGlyphs">W/m²</text>
<text transform="translate(685 568) scale(0.86 1)" font-size="12.5" fill="#fff" stroke="#fff" stroke-width="0.15" textLength="50.00" lengthAdjust="spacingAndGlyphs">Elevation</text>
<text transform="translate(788 568) scale(0.86 1)" font-size="12.5" fill="#fff" stroke="#fff" stroke-width="0.15" text-anchor="end">-14.176</text>
<text transform="translate(685 584) scale(0.86 1)" font-size="12.5" fill="#fff" stroke="#fff" stroke-width="0.15" textLength="72.09" lengthAdjust="spacingAndGlyphs">22.05.  11:30</text>
<text transform="translate(788 584) scale(0.86 1)" font-size="12.5" fill="#fff" stroke="#fff" stroke-width="0.15" text-anchor="end">1194</text>
<text transform="translate(685 600) scale(0.86 1)" font-size="12.5" fill="#fff" stroke="#fff" stroke-width="0.15" textLength="40.70" lengthAdjust="spacingAndGlyphs">39:05 h</text>
<text transform="translate(788 600) scale(0.86 1)" font-size="12.5" fill="#fff" stroke="#fff" stroke-width="0.15" text-anchor="end">280</text>
<text transform="translate(685 616) scale(0.86 1)" font-size="12.5" fill="#fff" stroke="#fff" stroke-width="0.15" textLength="36.63" lengthAdjust="spacingAndGlyphs">dunkel</text>
<text x="788" y="616" font-size="12.5" fill="#fff" text-anchor="end" font-weight="bold">0</text>
</svg>
</body></html>
